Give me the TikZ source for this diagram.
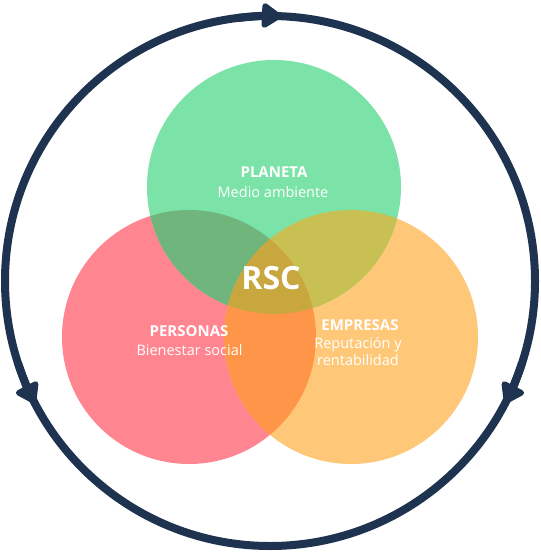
\documentclass[tikz,border=0pt]{standalone}
\usepackage{fontspec}
\setmainfont{Open Sans}
\usetikzlibrary{arrows.meta}
\definecolor{cGreen}{HTML}{7BE3A7}
\definecolor{cRed}{HTML}{FF8590}
\definecolor{cOrange}{HTML}{FFC878}
\definecolor{cGR}{HTML}{70B57C}
\definecolor{cGO}{HTML}{C8C052}
\definecolor{cRO}{HTML}{FF9548}
\definecolor{cAll}{HTML}{C9A73F}
\definecolor{cNavy}{HTML}{1E3350}
\tikzset{
  ttl/.style={text=white,font=\bfseries\fontsize{15}{19}\selectfont,anchor=base,inner sep=0pt},
  sub/.style={text=white,font=\fontsize{14.5}{17.5}\selectfont,anchor=base,inner sep=0pt},
  ring/.style={draw=cNavy,line width=8pt},
  tip/.style={draw=cNavy,line width=8pt,-{Triangle[length=22pt,width=28pt,round]}}
}
\begin{document}
\begin{tikzpicture}[x=1pt,y=-1pt]
\useasboundingbox (0,0) rectangle (540,553);
\coordinate (oc) at (270,281);
\coordinate (G) at (274,187);
\coordinate (R) at (189,337);
\coordinate (O) at (351,337);
% outer ring
\draw[ring] (oc) circle[radius=265];
\draw[tip] ([shift={(-97:265)}]oc) arc[start angle=-97,end angle=-87.5,radius=265];
\draw[tip] ([shift={(162:265)}]oc) arc[start angle=162,end angle=152.5,radius=265];
\draw[tip] ([shift={(18:265)}]oc) arc[start angle=18,end angle=27.5,radius=265];
% circles
\fill[cRed] (R) circle[radius=127];
\fill[cOrange] (O) circle[radius=127];
\fill[cGreen] (G) circle[radius=127];
\begin{scope}
  \clip (G) circle[radius=127];
  \fill[cGR] (R) circle[radius=127];
  \fill[cGO] (O) circle[radius=127];
\end{scope}
\begin{scope}
  \clip (R) circle[radius=127];
  \fill[cRO] (O) circle[radius=127];
\end{scope}
\begin{scope}
  \clip (G) circle[radius=127];
  \clip (R) circle[radius=127];
  \fill[cAll] (O) circle[radius=127];
\end{scope}
% labels
\node[ttl] (t1) at (274,178) {PLANETA};
\node[sub] (s1) at (273,197) {Medio ambiente};
\node[ttl] (t2) at (189,336) {PERSONAS};
\node[sub] (s2) at (189.5,355) {Bienestar social};
\node[ttl] (t3) at (360,330) {EMPRESAS};
\node[sub] (s3a) at (358,348) {Reputación y};
\node[sub] (s3b) at (358,365.5) {rentabilidad};
\node[text=white,font=\bfseries\fontsize{32}{36}\selectfont,anchor=base,inner sep=0pt] (rsc) at (271,289) {RSC};
\end{tikzpicture}
\end{document}
